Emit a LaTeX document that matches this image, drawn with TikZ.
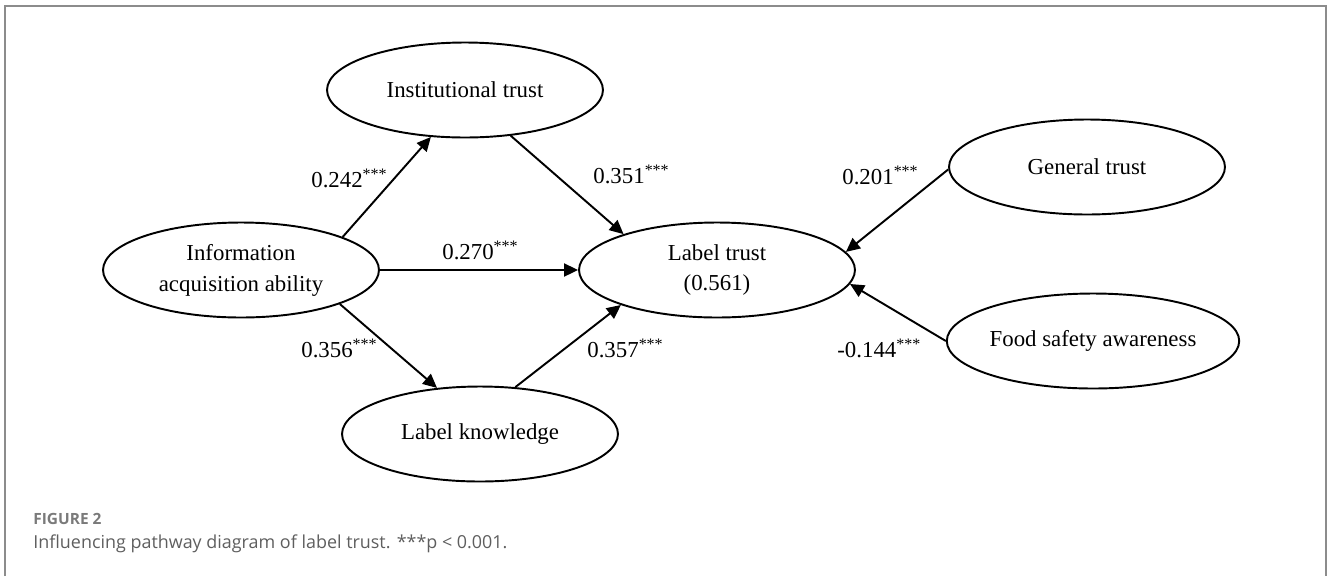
\documentclass[tikz,border=0pt]{standalone}
\usepackage{fontspec}
\setmainfont{Liberation Serif}
\newfontfamily\capfont{Open Sans}
\definecolor{FrameGray}{HTML}{8C8C8C}
\definecolor{CapGray}{HTML}{5E5E5E}
\definecolor{FigGray}{HTML}{7A7A7A}
\usetikzlibrary{arrows.meta,shapes.geometric}

\begin{document}
\begin{tikzpicture}[x=0.02cm,y=-0.02cm,
        construct/.style={draw,ellipse,line width=1.1pt,
                    minimum width=5.52cm,minimum height=1.9cm,
                    font=\fontsize{13}{17.6}\selectfont,
                    inner sep=0pt,align=center},
        coef/.style={font=\fontsize{13}{15}\selectfont,
                    inner sep=0pt,anchor=base west},
        effect/.style={line width=1.1pt,
                    -{Triangle[length=2.8mm,width=2.6mm]}}]

        \useasboundingbox (0,0) rectangle (1328,576);
        \draw[FrameGray,line width=1pt] (5,576) -- (5,6) -- (1326,6) -- (1326,576);

        \node[construct] (iat) at (465,90)   {Institutional trust};
        \node[construct] (iaa) at (241,270)  {Information\\acquisition ability};
        \node[construct] (lt)  at (717,270)  {Label trust\\(0.561)};
        \node[construct] (lk)  at (480,434)  {Label knowledge};
        \node[construct] (gt)  at (1087,167) {General trust};
        \node[construct] (fsa) at (1093,341) {Food safety awareness};

        \foreach \a/\b in {iaa.18/iat.234,iat.-45/lt.159,iaa.east/lt.west,
                          iaa.-19/lk.133,lk.53/lt.200,gt.181/lt.8,fsa.180/lt.-6}{
          \draw[effect] (\a) -- (\b);
        }

        \node[coef] (c1) at (311,187) {0.242\textsuperscript{***}};
        \node[coef] (c2) at (593,183) {0.351\textsuperscript{***}};
        \node[coef] (c3) at (442,259) {0.270\textsuperscript{***}};
        \node[coef] (c4) at (301,357) {0.356\textsuperscript{***}};
        \node[coef] (c5) at (587,357) {0.357\textsuperscript{***}};
        \node[coef] (c6) at (842,184) {0.201\textsuperscript{***}};
        \node[coef] (c7) at (837,357) {-0.144\textsuperscript{***}};

        \node[font=\capfont\bfseries\fontsize{8.8}{10}\selectfont,text=FigGray,
              inner sep=0pt,anchor=base west] (fig) at (33,524) {FIGURE 2};
        \node[font=\capfont\fontsize{10.2}{12}\selectfont,text=CapGray,
              inner sep=0pt,anchor=base west] (cap) at (33,548)
              {Influencing pathway diagram of label trust. ***p < 0.001.};
      \end{tikzpicture}
\end{document}
